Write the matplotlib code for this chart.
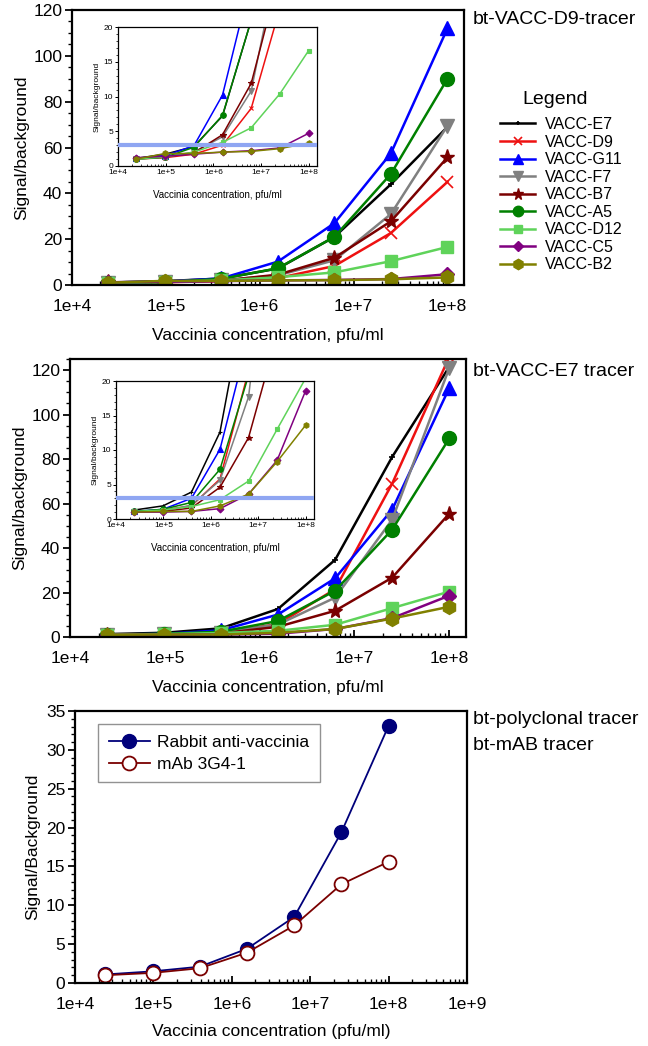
import numpy as np
import matplotlib
matplotlib.use("Agg")
from matplotlib import pyplot as plt
from matplotlib.ticker import FuncFormatter, LogLocator, MultipleLocator, NullFormatter

plt.rcParams['font.family'] = ['Liberation Sans', 'DejaVu Sans']

# virus concentration, pfu/ml (4-fold dilutions)
conc = [2.44e4, 9.77e4, 3.91e5, 1.56e6, 6.25e6, 2.5e7, 1.0e8]

names = ["VACC-E7", "VACC-D9", "VACC-G11", "VACC-F7", "VACC-B7",
         "VACC-A5", "VACC-D12", "VACC-C5", "VACC-B2"]

# bt-VACC-D9 tracer
d9_tracer = {
    "VACC-E7": [1.1, 1.7, 2.8, 7.2, 21.0, 44.0, 69.0],
    "VACC-D9": [1.0, 1.2, 1.7, 3.0, 8.3, 22.7, 45.0],
    "VACC-G11": [1.1, 1.5, 2.9, 10.2, 27.0, 57.5, 112.0],
    "VACC-F7": [1.0, 1.3, 2.0, 4.2, 10.8, 31.0, 69.5],
    "VACC-B7": [1.1, 1.3, 1.9, 4.5, 11.9, 27.8, 55.7],
    "VACC-A5": [1.0, 1.25, 2.7, 7.3, 21.0, 48.5, 90.0],
    "VACC-D12": [1.0, 1.3, 2.0, 3.4, 5.5, 10.4, 16.6],
    "VACC-C5": [1.2, 1.4, 1.7, 2.0, 2.2, 2.6, 4.7],
    "VACC-B2": [1.0, 1.8, 1.8, 2.0, 2.1, 2.5, 3.3],
}

# bt-VACC-E7 tracer
e7_tracer = {
    "VACC-E7": [1.3, 1.9, 3.9, 12.6, 34.7, 81.0, 121.5],
    "VACC-D9": [1.0, 1.3, 1.9, 5.8, 21.5, 69.0, 126.0],
    "VACC-G11": [1.1, 1.4, 3.0, 10.1, 26.4, 57.3, 112.0],
    "VACC-F7": [1.0, 1.2, 2.0, 5.6, 17.7, 52.8, 121.0],
    "VACC-B7": [1.0, 1.1, 1.6, 4.6, 11.8, 26.7, 55.5],
    "VACC-A5": [1.1, 1.4, 2.4, 7.2, 20.8, 48.3, 89.3],
    "VACC-D12": [1.1, 1.3, 1.8, 2.8, 5.5, 13.0, 20.4],
    "VACC-C5": [1.0, 1.0, 1.1, 1.5, 3.6, 8.5, 18.6],
    "VACC-B2": [1.0, 1.1, 1.1, 1.9, 3.6, 8.3, 13.6],
}

rabbit = [1.1, 1.5, 2.1, 4.4, 8.5, 19.4, 33.1]
mab_3g4 = [1.0, 1.3, 1.9, 3.9, 7.4, 12.7, 15.6]

cutoff = 3.0

styles = {
    "VACC-E7": dict(color="black", marker="+", ms=4, ms_in=3),
    "VACC-D9": dict(color="#ee1111", marker="x", ms=8, ms_in=3),
    "VACC-G11": dict(color="#0000ff", marker="^", ms=10, ms_in=4),
    "VACC-F7": dict(color="#808080", marker="v", ms=10, ms_in=4),
    "VACC-B7": dict(color="#7a0000", marker="*", ms=11, ms_in=4),
    "VACC-A5": dict(color="#008000", marker="o", ms=10, ms_in=4),
    "VACC-D12": dict(color="#5fd35a", marker="s", ms=8, ms_in=3.5),
    "VACC-C5": dict(color="#800080", marker="D", ms=7, ms_in=3.5),
    "VACC-B2": dict(color="#808000", marker="h", ms=10, ms_in=4),
}

W, H = 648, 1046
fig = plt.figure(figsize=(W / 100, H / 100), dpi=100)


def px_axes(x0, y0, x1, y1):
    # axes from pixel box (top-left origin)
    return fig.add_axes([x0 / W, 1 - y1 / H, (x1 - x0) / W, (y1 - y0) / H])


def log_fmt(v, pos):
    return "1e+{}".format(int(round(np.log10(v))))


def style_axes(ax, xlim, ylim, ystep, yminor, fs, lw, small=False):
    ax.set_xscale("log")
    ax.set_xlim(*xlim)
    ax.set_ylim(*ylim)
    ax.xaxis.set_major_locator(LogLocator(base=10))
    ax.xaxis.set_minor_locator(LogLocator(base=10, subs=np.arange(2, 10)))
    ax.xaxis.set_major_formatter(FuncFormatter(log_fmt))
    ax.xaxis.set_minor_formatter(NullFormatter())
    ax.yaxis.set_major_locator(MultipleLocator(ystep))
    ax.yaxis.set_minor_locator(MultipleLocator(yminor))
    for s in ax.spines.values():
        s.set_linewidth(lw)
    L = 2.5 if small else 5
    ax.tick_params(axis="x", which="major", direction="in", length=L, width=lw * 0.8,
                   labelsize=fs, pad=2.5 if small else 10)
    ax.tick_params(axis="x", which="minor", direction="in", length=L * 0.6, width=lw * 0.6)
    ax.tick_params(axis="y", which="major", direction="out", length=L, width=lw * 0.8,
                   labelsize=fs, pad=1 if small else 2)
    ax.tick_params(axis="y", which="minor", direction="out", length=L * 0.6, width=lw * 0.6)


def draw_panel(main_box, inset_box, data, ylim, ystep):
    ax = px_axes(*main_box)
    for n in names:
        st = styles[n]
        ax.plot(conc, data[n], color=st["color"], marker=st["marker"], ms=st["ms"],
                mew=1.2 if st["marker"] in "+x" else 1, lw=1.8, label=n)
    style_axes(ax, (1e4, 1.5e8), ylim, ystep, ystep / 4, 12.5, 1.6)
    ax.set_xlabel("Vaccinia concentration, pfu/ml", fontsize=12.5, labelpad=10)
    ax.set_ylabel("Signal/background", fontsize=12.5, labelpad=3)

    ins = px_axes(*inset_box)
    for n in names:
        st = styles[n]
        ins.plot(conc, data[n], color=st["color"], marker=st["marker"], ms=st["ms_in"],
                 lw=1.1, mew=0.8)
    ins.axhline(cutoff, color="#8fa6f2", lw=3, zorder=5)
    style_axes(ins, (1e4, 1.5e8), (0, 20), 5, 1, 6, 0.9, small=True)
    ins.set_xlabel("Vaccinia concentration, pfu/ml", fontsize=7, labelpad=10)
    ins.set_ylabel("Signal/background", fontsize=6, labelpad=2)
    return ax


top = draw_panel((72, 10, 464, 285), (118, 27, 317, 166), d9_tracer, (0, 120), 20)
fig.text(473 / W, 1 - 20 / H, "bt-VACC-D9-tracer", fontsize=14, va="center", ha="left")
fig.text(555 / W, 1 - 100 / H, "Legend", fontsize=14, va="center", ha="center")
handles, labels = top.get_legend_handles_labels()
leg = fig.legend(handles, labels, loc="upper left", bbox_to_anchor=(500 / W, 1 - 117 / H),
                 frameon=False, fontsize=11.5, markerscale=0.75,
                 handlelength=2.2, labelspacing=0.16, handletextpad=0.6, borderaxespad=0,
                 borderpad=0)

mid = draw_panel((70, 359, 466, 637), (116, 381, 314, 519), e7_tracer, (0, 125), 20)
fig.text(473 / W, 1 - 372 / H, "bt-VACC-E7 tracer", fontsize=14, va="center", ha="left")

# polyclonal vs monoclonal tracer
ax3 = px_axes(75, 711, 467, 983)
ax3.plot(conc, rabbit, color="#00007a", marker="o", ms=10, lw=1.3,
         label="Rabbit anti-vaccinia")
ax3.plot(conc, mab_3g4, color="#7a0000", marker="o", ms=10, lw=1.3, mfc="white",
         mec="#7a0000", mew=1.3, label="mAb 3G4-1")
style_axes(ax3, (1e4, 1e9), (0, 35), 5, 1, 12.5, 1.6)
ax3.set_xlabel("Vaccinia concentration (pfu/ml)", fontsize=12.5, labelpad=9)
ax3.set_ylabel("Signal/Background", fontsize=12.5, labelpad=4)
lg = ax3.legend(loc="upper left", bbox_to_anchor=(0.059, 0.952), borderaxespad=0,
                fancybox=False, edgecolor="#777777", fontsize=12.5, handlelength=2.4,
                handletextpad=0.4, borderpad=0.6, labelspacing=0.4)
lg.get_frame().set_linewidth(1.0)
fig.text(473 / W, 1 - 720 / H, "bt-polyclonal tracer", fontsize=14, va="center", ha="left")
fig.text(473 / W, 1 - 745 / H, "bt-mAB tracer", fontsize=14, va="center", ha="left")

fig.savefig("out.png", dpi=100)
